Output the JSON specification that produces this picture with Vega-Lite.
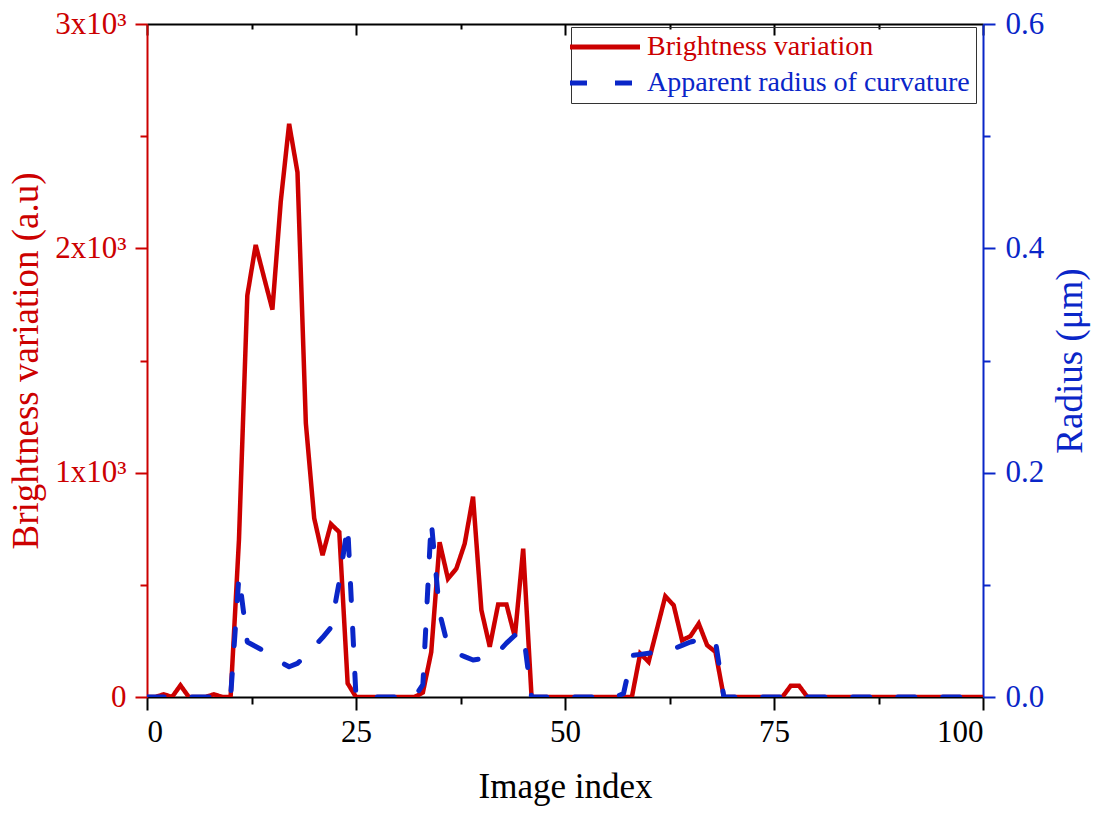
{
  "$schema": "https://vega.github.io/schema/vega-lite/v6.json",
  "width": 836,
  "height": 673,
  "autosize": "none",
  "padding": {"left": 147, "top": 24, "right": 123, "bottom": 116},
  "background": "white",
  "config": {
    "font": "Liberation Serif",
    "view": {"stroke": null},
    "axis": {"grid": false, "labelFont": "Liberation Serif", "titleFont": "Liberation Serif", "titleFontWeight": "normal", "domainWidth": 2, "tickWidth": 2},
    "legend": {"orient": "none", "legendX": 424, "legendY": 3, "title": null, "symbolType": "M-3.5,0H3.5", "symbolSize": 400, "symbolStrokeWidth": 5, "symbolOffset": 14, "labelFont": "Liberation Serif", "labelFontSize": 28, "labelLimit": 0, "labelOffset": 28, "rowPadding": 8, "padding": 6, "strokeColor": "#333333"}
  },
  "data": {"values": [
    {"i":0,"b":0,"r":0},{"i":1,"b":0,"r":0},{"i":2,"b":12,"r":0},{"i":3,"b":0,"r":0},{"i":4,"b":52,"r":0},
    {"i":5,"b":0,"r":0},{"i":6,"b":0,"r":0},{"i":7,"b":0,"r":0},{"i":8,"b":12,"r":0},{"i":9,"b":0,"r":0},
    {"i":10,"b":0,"r":0},{"i":11,"b":700,"r":0.108},{"i":12,"b":1790,"r":0.049},{"i":13,"b":2015,"r":0.045},{"i":14,"b":1870,"r":0.041},
    {"i":15,"b":1727,"r":0.036},{"i":16,"b":2209,"r":0.031},{"i":17,"b":2555,"r":0.027},{"i":18,"b":2339,"r":0.030},{"i":19,"b":1221,"r":0.037},
    {"i":20,"b":797,"r":0.045},{"i":21,"b":632,"r":0.053},{"i":22,"b":771,"r":0.062},{"i":23,"b":735,"r":0.103},{"i":24,"b":61,"r":0.153},
    {"i":25,"b":0,"r":0},{"i":26,"b":0,"r":0},{"i":27,"b":0,"r":0},{"i":28,"b":0,"r":0},{"i":29,"b":0,"r":0},
    {"i":30,"b":0,"r":0},{"i":31,"b":0,"r":0},{"i":32,"b":0,"r":0},{"i":33,"b":20,"r":0.011},{"i":34,"b":200,"r":0.157},
    {"i":35,"b":690,"r":0.075},{"i":36,"b":527,"r":0.045},{"i":37,"b":572,"r":0.039},{"i":38,"b":683,"r":0.036},{"i":39,"b":893,"r":0.033},
    {"i":40,"b":387,"r":0.034},{"i":41,"b":224,"r":0.036},{"i":42,"b":412,"r":0.040},{"i":43,"b":412,"r":0.048},{"i":44,"b":268,"r":0.055},
    {"i":45,"b":661,"r":0.058},{"i":46,"b":0,"r":0},{"i":47,"b":0,"r":0},{"i":48,"b":0,"r":0},{"i":49,"b":0,"r":0},
    {"i":50,"b":0,"r":0},{"i":51,"b":0,"r":0},{"i":52,"b":0,"r":0},{"i":53,"b":0,"r":0},{"i":54,"b":0,"r":0},
    {"i":55,"b":0,"r":0},{"i":56,"b":0,"r":0},{"i":57,"b":0,"r":0.003},{"i":58,"b":0,"r":0.037},{"i":59,"b":194,"r":0.038},
    {"i":60,"b":157,"r":0.039},{"i":61,"b":303,"r":0.040},{"i":62,"b":449,"r":0.041},{"i":63,"b":409,"r":0.043},{"i":64,"b":253,"r":0.046},
    {"i":65,"b":271,"r":0.049},{"i":66,"b":327,"r":0.051},{"i":67,"b":231,"r":0.051},{"i":68,"b":201,"r":0.050},{"i":69,"b":0,"r":0},
    {"i":70,"b":0,"r":0},{"i":71,"b":0,"r":0},{"i":72,"b":0,"r":0},{"i":73,"b":0,"r":0},{"i":74,"b":0,"r":0},
    {"i":75,"b":0,"r":0},{"i":76,"b":0,"r":0},{"i":77,"b":50,"r":0},{"i":78,"b":50,"r":0},{"i":79,"b":0,"r":0},
    {"i":80,"b":0,"r":0},{"i":81,"b":0,"r":0},{"i":82,"b":0,"r":0},{"i":83,"b":0,"r":0},{"i":84,"b":0,"r":0},
    {"i":85,"b":0,"r":0},{"i":86,"b":0,"r":0},{"i":87,"b":0,"r":0},{"i":88,"b":0,"r":0},{"i":89,"b":0,"r":0},
    {"i":90,"b":0,"r":0},{"i":91,"b":0,"r":0},{"i":92,"b":0,"r":0},{"i":93,"b":0,"r":0},{"i":94,"b":0,"r":0},
    {"i":95,"b":0,"r":0},{"i":96,"b":0,"r":0},{"i":97,"b":0,"r":0},{"i":98,"b":0,"r":0},{"i":99,"b":0,"r":0},
    {"i":100,"b":0,"r":0}
  ]},
  "layer": [
    {
      "mark": {"type": "line", "strokeWidth": 4.5, "strokeJoin": "miter", "clip": true},
      "encoding": {
        "x": {"field": "i", "type": "quantitative", "scale": {"domain": [0, 100], "nice": false},
          "axis": {"orient": "bottom", "values": [0, 25, 50, 75, 100], "title": "Image index", "domainColor": "black", "tickColor": "black", "tickSize": 13, "labelFontSize": 31, "labelColor": "black", "labelPadding": 7, "titleFontSize": 35, "titleColor": "black", "titlePadding": 22}},
        "y": {"field": "b", "type": "quantitative", "scale": {"domain": [0, 3000], "nice": false},
          "axis": {"orient": "left", "values": [0, 1000, 2000, 3000], "labelExpr": "datum.value == 0 ? '0' : (datum.value/1000) + 'x10³'", "title": "Brightness variation (a.u)", "domainColor": "#cc0000", "tickColor": "#cc0000", "tickSize": 12, "labelColor": "#cc0000", "labelFontSize": 31, "labelPadding": 9, "titleColor": "#cc0000", "titleFontSize": 37, "titlePadding": 9}},
        "color": {"datum": "Brightness variation", "type": "nominal",
          "scale": {"domain": ["Brightness variation", "Apparent radius of curvature"], "range": ["#cc0000", "#0a26c8"]},
          "legend": {"encode": {"labels": {"update": {"fill": {"signal": "datum.label == 'Brightness variation' ? '#cc0000' : '#0a26c8'"}}}}}},
        "strokeDash": {"datum": "Brightness variation", "type": "nominal",
          "scale": {"domain": ["Brightness variation", "Apparent radius of curvature"], "range": [[1, 0], [17, 28]]}}
      }
    },
    {
      "mark": {"type": "line", "strokeWidth": 5, "strokeCap": "round", "strokeJoin": "round", "clip": true},
      "encoding": {
        "x": {"field": "i", "type": "quantitative", "scale": {"domain": [0, 100], "nice": false},
          "axis": {"orient": "top", "values": [0, 25, 50, 75, 100], "labels": false, "title": null, "domainColor": "black", "tickColor": "black", "tickSize": -11}},
        "y": {"field": "r", "type": "quantitative", "scale": {"domain": [0, 0.6], "nice": false},
          "axis": {"orient": "right", "values": [0, 0.2, 0.4, 0.6], "format": ".1f", "title": "Radius (μm)", "titleAngle": 270, "domainColor": "#0a26c8", "tickColor": "#0a26c8", "tickSize": 12, "labelColor": "#0a26c8", "labelFontSize": 31, "labelPadding": 10, "titleColor": "#0a26c8", "titleFontSize": 37, "titlePadding": 46}},
        "color": {"datum": "Apparent radius of curvature", "type": "nominal"},
        "strokeDash": {"datum": "Apparent radius of curvature", "type": "nominal"}
      }
    },
    {
      "mark": {"type": "line", "opacity": 0},
      "encoding": {
        "x": {"field": "i", "type": "quantitative", "scale": {"domain": [0, 100], "nice": false},
          "axis": {"orient": "bottom", "values": [12.5, 37.5, 62.5, 87.5], "labels": false, "domain": false, "title": null, "tickColor": "black", "tickSize": 7}},
        "y": {"field": "b", "type": "quantitative", "scale": {"domain": [0, 3000], "nice": false},
          "axis": {"orient": "left", "values": [500, 1500, 2500], "labels": false, "domain": false, "title": null, "tickColor": "#cc0000", "tickSize": 7}}
      }
    },
    {
      "mark": {"type": "line", "opacity": 0},
      "encoding": {
        "x": {"field": "i", "type": "quantitative", "scale": {"domain": [0, 100], "nice": false},
          "axis": {"orient": "top", "values": [12.5, 37.5, 62.5, 87.5], "labels": false, "domain": false, "title": null, "tickColor": "black", "tickSize": -5}},
        "y": {"field": "r", "type": "quantitative", "scale": {"domain": [0, 0.6], "nice": false},
          "axis": {"orient": "right", "values": [0.1, 0.3, 0.5], "labels": false, "domain": false, "title": null, "tickColor": "#0a26c8", "tickSize": 7}}
      }
    }
  ],
  "resolve": {"scale": {"y": "independent"}, "axis": {"x": "independent", "y": "independent"}}
}
